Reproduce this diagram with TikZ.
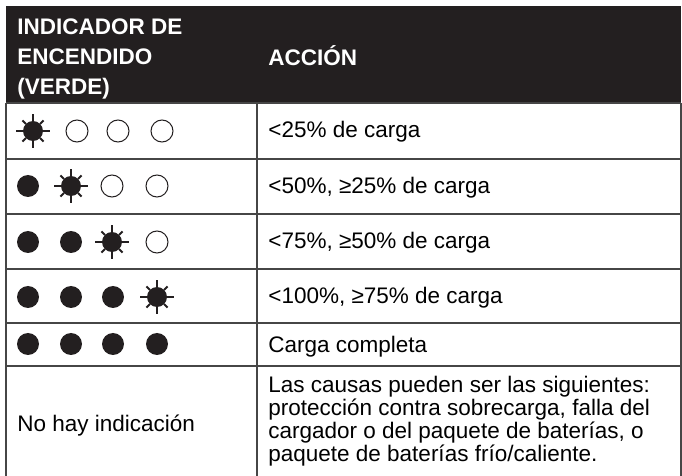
\documentclass[tikz,border=0pt]{standalone}
\usepackage{fontspec}
\setmainfont{Liberation Sans}
\usepackage{tikz}

\tikzset{pics/sunled/.style={code={
  \fill[headColor] (0,0) circle (10);
  \foreach \a in {0,90,180,270}
    \draw[ray] (\a:10) -- (\a:17);
  \foreach \a in {45,135,225,315}
    \draw[ray] (\a:10) -- (\a:15);
}}}

\begin{document}
\begin{tikzpicture}[x=0.5pt,y=-0.5pt,
  rule/.style={draw=ruleColor,line width=1pt},
  ray/.style={draw=headColor,line width=1pt},
  ledOn/.style={fill=headColor},
  ledOff/.style={draw=headColor,line width=0.5pt,fill=white},
  cellText/.style={anchor=base west,inner sep=0pt,align=left,font=\fontsize{11.25}{11.5}\selectfont},
  headText/.style={anchor=base west,inner sep=0pt,align=left,text=white,font=\fontsize{11.25}{15}\selectfont\bfseries}]
\definecolor{headColor}{RGB}{35,31,32}
\definecolor{ruleColor}{RGB}{70,70,70}
\useasboundingbox (0,0) rectangle (682,476);
% header
\fill[headColor] (6,6) rectangle (681,103);
\node[headText] (hInd) at (17,95) {INDICADOR DE\\ENCENDIDO\\(VERDE)};
\node[headText] (hAcc) at (268,66) {ACCIÓN};
% grid
\foreach \y in {103,159,214,269,323,366}
  \draw[rule] (6,\y) -- (681,\y);
\foreach \x in {6,257,681}
  \draw[rule] (\x,103) -- (\x,480);
% indicator lights
\pic at (33,131) {sunled};
\foreach \x in {77,118,162}
  \draw[ledOff] (\x,131) circle (11);
\fill[ledOn] (28,186) circle (11);
\pic at (71,186) {sunled};
\foreach \x in {112,157}
  \draw[ledOff] (\x,186) circle (11);
\foreach \x in {28,71}
  \fill[ledOn] (\x,242) circle (11);
\pic at (112,242) {sunled};
\draw[ledOff] (157,242) circle (11);
\foreach \x in {28,71,113}
  \fill[ledOn] (\x,297) circle (11);
\pic at (157,297) {sunled};
\foreach \x in {28,71,113,157}
  \fill[ledOn] (\x,344) circle (11);
% actions
\node[cellText] (t1) at (268,138) {<25\% de carga};
\node[cellText] (t2) at (268,194) {<50\%, ≥25\% de carga};
\node[cellText] (t3) at (268,249) {<75\%, ≥50\% de carga};
\node[cellText] (t4) at (268,304) {<100\%, ≥75\% de carga};
\node[cellText] (t5) at (268,353) {Carga completa};
\node[cellText] (t6) at (17,432) {No hay indicación};
\node[cellText] (t7) at (268,462) {Las causas pueden ser las siguientes:\\protección contra sobrecarga, falla del\\cargador o del paquete de baterías, o\\paquete de baterías frío/caliente.};
\end{tikzpicture}
\end{document}
